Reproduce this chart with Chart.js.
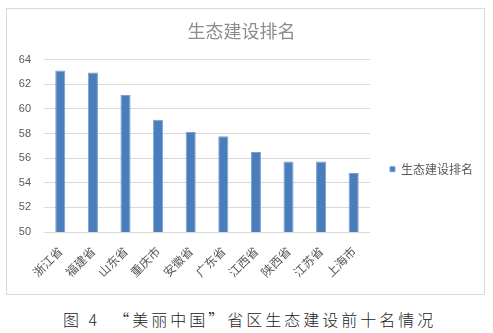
<!DOCTYPE html>
<html>
<head>
<meta charset="utf-8">
<script src="https://cdn.jsdelivr.net/npm/chart.js@4"></script>
<style>
  html, body { margin: 0; padding: 0; background: #fff; width: 493px; height: 333px; overflow: hidden; }
  #frame { position: absolute; left: 6px; top: 8px; width: 479px; height: 287px; border: 1px solid #d9d9d9; box-sizing: border-box; }
  #chart { position: absolute; left: 0; top: 0; }
  #caption {
    position: absolute; left: 63px; top: 308px;
    font-family: "Noto Sans CJK SC", sans-serif; font-size: 16px; font-weight: 300;
    letter-spacing: 3px; white-space: pre; color: #222; line-height: 22px;
  }
  #caption .q { display: inline-block; width: 19px; }
  #caption .ql { text-align: right; }
  #caption .qr { text-align: left; }
</style>
</head>
<body>
<div id="frame"></div>
<canvas id="chart" width="493" height="298"></canvas>
<div id="caption">图 4  <span class="q ql">“</span>美丽中国<span class="q qr">”</span>省区生态建设前十名情况</div>
<script>
// Provinces ranked by ecological construction score
const provinces = ['浙江省', '福建省', '山东省', '重庆市', '安徽省', '广东省', '江西省', '陕西省', '江苏省', '上海市'];
const scores = [63.12, 62.96, 61.13, 59.12, 58.12, 57.78, 56.5, 55.72, 55.72, 54.8];
const seriesName = '生态建设排名';
const yTicks = [50, 52, 54, 56, 58, 60, 62, 64];

const grey = '#595959';

new Chart(document.getElementById('chart'), {
  type: 'bar',
  data: {
    labels: provinces,
    datasets: [{
      label: seriesName,
      data: scores,
      backgroundColor: '#4a7dbb',
      borderColor: '#7aa0d2',
      borderWidth: 1,
      barPercentage: 0.31,
      categoryPercentage: 1
    }]
  },
  options: {
    responsive: false,
    animation: false,
    devicePixelRatio: 1,
    layout: { padding: { top: 0, left: 0, right: 10, bottom: 6 } },
    plugins: {
      title: {
        display: true,
        text: seriesName,
        color: '#8c8c8c',
        font: { family: 'Noto Sans CJK SC', size: 18, weight: 'normal' },
        padding: { top: 20, bottom: 18 }
      },
      legend: {
        position: 'right',
        // empty title block pushes the single legend item lower
        title: { display: true, text: '', padding: { top: 32, bottom: 0 }, font: { size: 12 } },
        labels: {
          boxWidth: 5,
          boxHeight: 5,
          padding: 20,
          color: grey,
          font: { family: 'Noto Sans CJK SC', size: 12 }
        }
      },
      tooltip: { enabled: false }
    },
    scales: {
      x: {
        grid: { display: false },
        border: { display: false },
        ticks: {
          minRotation: 45,
          maxRotation: 45,
          padding: 4,
          color: grey,
          font: { family: 'Noto Sans CJK SC', size: 12 }
        },
        afterFit: (scale) => { scale.height = 60; }
      },
      y: {
        min: yTicks[0],
        max: yTicks[yTicks.length - 1],
        afterBuildTicks: (scale) => { scale.ticks = yTicks.map(v => ({ value: v })); },
        grid: { color: '#d9d9d9', drawTicks: false },
        border: { display: false },
        ticks: {
          padding: 13,
          color: grey,
          font: { family: 'Liberation Sans', size: 11 }
        },
        afterFit: (scale) => { scale.width = 44; }
      }
    }
  }
});
</script>
</body>
</html>
